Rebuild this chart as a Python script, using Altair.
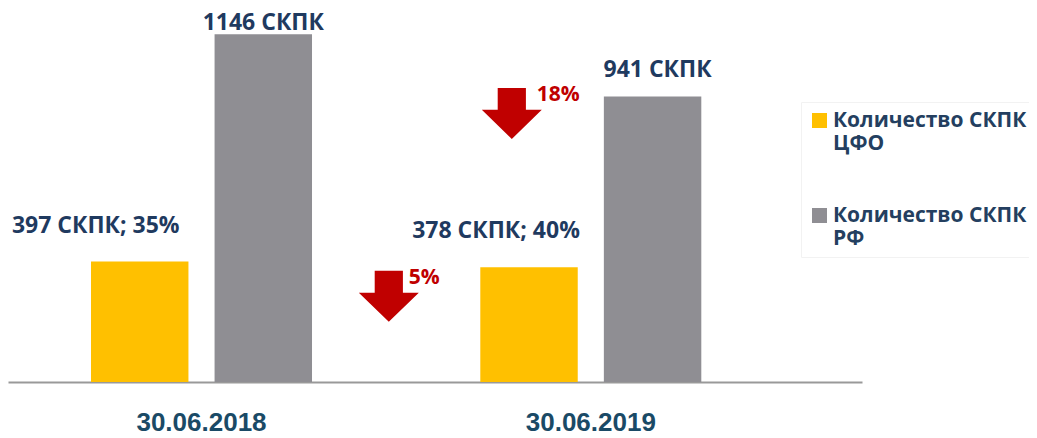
import altair as alt
import pandas as pd

dates = ["30.06.2018", "30.06.2019"]
series = ["ЦФО", "РФ"]
cfo_values = [397, 378]
rf_values = [1146, 941]

rows = []
for i, d in enumerate(dates):
    share = round(cfo_values[i] / rf_values[i] * 100)
    rows.append({"date": d, "series": "ЦФО", "value": cfo_values[i],
                 "label": f"{cfo_values[i]} СКПК; {share}%"})
    rows.append({"date": d, "series": "РФ", "value": rf_values[i],
                 "label": f"{rf_values[i]} СКПК"})
df = pd.DataFrame(rows)

rf_drop = round((rf_values[0] - rf_values[1]) / rf_values[0] * 100)
cfo_drop = round((cfo_values[0] - cfo_values[1]) / cfo_values[0] * 100)
arrow_rf = pd.DataFrame([{"date": dates[1], "value": rf_values[1], "pct": f"{rf_drop}%"}])
arrow_cfo = pd.DataFrame([{"date": dates[1], "value": cfo_values[1], "pct": f"{cfo_drop}%"}])

NAVY = "#1f3a5f"
RED = "#c00000"
ARROW = "M-0.47,-0.85 L0.47,-0.85 L0.47,-0.12 L1,-0.12 L0,0.85 L-1,-0.12 L-0.47,-0.12 Z"

# label pixel offsets (style), keyed by (date, series)
LABEL_OFFSETS = {
    (dates[0], "ЦФО"): (-44, -36),
    (dates[0], "РФ"): (0, -11),
    (dates[1], "ЦФО"): (-33, -36),
    (dates[1], "РФ"): (5, -26),
}

xscale = alt.Scale(domain=dates, paddingInner=0.4323, paddingOuter=0.313, align=0.3406)
yscale = alt.Scale(domain=[0, 1193], nice=False, zero=True)
xoff = alt.XOffset("series:N", sort=series,
                   scale=alt.Scale(domain=series, paddingInner=0.2114, paddingOuter=0))

x_enc = alt.X("date:N", scale=xscale, sort=dates,
              axis=alt.Axis(title=None, labelAngle=0, ticks=False, tickSize=0,
                            domainColor="#999999", domainWidth=2,
                            labelFont="Liberation Sans", labelFontWeight="bold",
                            labelFontSize=26, labelColor="#1a4a66",
                            labelBaseline="middle", labelPadding=40))
y_enc = alt.Y("value:Q", scale=yscale, axis=None)

base = alt.Chart(df)

bars = base.mark_bar().encode(
    x=x_enc, xOffset=xoff, y=y_enc,
    color=alt.Color("series:N", sort=series,
                    scale=alt.Scale(domain=series, range=["#FFC000", "#8F8E93"]),
                    legend=alt.Legend(
                        title=None, orient="none", legendX=793, legendY=82,
                        symbolType="square", symbolSize=225, symbolStrokeWidth=0,
                        symbolOpacity=1, labelOffset=3, labelLimit=400,
                        labelFont="Open Sans", labelFontWeight="bold",
                        labelFontSize=21, labelColor="#243f60",
                        labelExpr="['Количество СКПК', datum.label]",
                        rowPadding=50, padding=8, strokeColor="#f2f2f2",
                        cornerRadius=0)),
)

label_layers = []
for (d, s), (ldx, ldy) in LABEL_OFFSETS.items():
    label_layers.append(
        base.transform_filter((alt.datum.date == d) & (alt.datum.series == s)).mark_text(
            font="Open Sans", fontWeight="bold", fontSize=23, color=NAVY,
            baseline="middle", dx=ldx, dy=ldy
        ).encode(x=alt.X("date:N", scale=xscale, sort=dates), xOffset=xoff,
                 y=alt.Y("value:Q", scale=yscale), text="label:N")
    )


def arrow_layer(data, xo, yo, tdx):
    a = alt.Chart(data).mark_point(
        shape=ARROW, size=3600, filled=True, opacity=1, color=RED,
        strokeWidth=0, xOffset=xo, yOffset=yo
    ).encode(x=alt.X("date:N", scale=xscale, sort=dates),
             y=alt.Y("value:Q", scale=yscale))
    t = alt.Chart(data).mark_text(
        font="Open Sans", fontWeight="bold", fontSize=21, color=RED,
        align="left", baseline="middle", dx=xo + tdx, dy=yo - 18
    ).encode(x=alt.X("date:N", scale=xscale, sort=dates),
             y=alt.Y("value:Q", scale=yscale), text="pct:N")
    return a + t


chart = alt.layer(
    bars, *label_layers,
    arrow_layer(arrow_rf, -79, 17, 25),
    arrow_layer(arrow_cfo, -202, 29, 20),
).properties(
    width=854, height=362,
    autosize=alt.AutoSizeParams(type="none"),
    padding={"left": 0, "top": 12, "right": 167, "bottom": 56},
).configure_view(stroke=None)

chart.save("out.html", embed_options={"renderer": "svg", "actions": False})
